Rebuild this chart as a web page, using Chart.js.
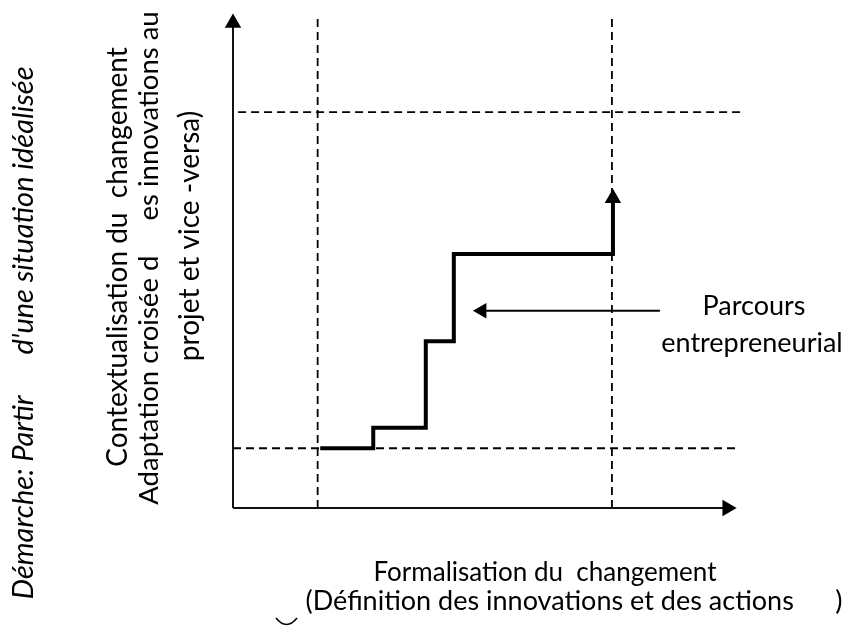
<!DOCTYPE html>
<html>
<head>
<meta charset="utf-8">
<script src="https://cdn.jsdelivr.net/npm/chart.js@4/dist/chart.umd.min.js"></script>
<style>
  html, body { margin: 0; padding: 0; background: #fff; }
  #wrap { width: 852px; height: 628px; position: relative; }
</style>
</head>
<body>
<div id="wrap"><canvas id="c" width="852" height="628"></canvas></div>
<script>
// ---- data (chart coordinates, 0..100 on both axes) ----
const pathX = [17.1, 27.5, 37.8, 43.3, 74.5];      // parcours entrepreneurial (step line)
const pathY = [12.0, 16.1, 33.5, 51.0, 62.2];
const dashedVX = [16.6, 74.3];                      // vertical dashed guides
const dashedVY = [0, 99];
const dashedHY = [79.5, 12.0];                      // horizontal dashed guides
const dashedHX = [[1.0, 99.8], [0, 98.8]];
const axisXEnd = 96.9;                              // x-axis (arrow)
const axisYEnd = 97.4;                              // y-axis (arrow)
const noteArrowX = [83.7, 48.8];                    // annotation arrow
const noteArrowY = [39.6, 39.6];

// ---- texts ----
const sideTitle = "Démarche: Partir      d'une situation idéalisée";
const yTitleLines = ["Contextualisation du  changement",
                     "Adaptation croisée d     es innovations au",
                     "projet et vice -versa)"];
const xTitleLines = ["Formalisation du  changement",
                     "(Définition des innovations et des actions      )"];
const noteLines = ["Parcours", "entrepreneurial"];

const pts = (xs, ys) => xs.map((x, i) => ({ x: x, y: ys[i] }));

const base = { fill: false, clip: false, pointRadius: 0, borderCapStyle: 'butt', borderJoinStyle: 'miter' };
const arrowEnd = (r) => (ctx) => ctx.dataIndex === ctx.dataset.data.length - 1 ? r : 0;
const head = (r, rot) => ({ pointStyle: 'triangle', pointRadius: arrowEnd(r), pointRotation: rot,
  pointBackgroundColor: '#000', pointBorderColor: '#000', pointBorderWidth: 0 });

const datasets = [];
dashedVX.forEach(x => datasets.push(Object.assign({}, base, {
  data: pts([x, x], dashedVY), borderColor: '#000', borderWidth: 1.8, borderDash: [8, 5]
})));
dashedHY.forEach((y, i) => datasets.push(Object.assign({}, base, {
  data: pts(dashedHX[i], [y, y]), borderColor: '#000', borderWidth: 1.8, borderDash: [8, 5]
})));
datasets.push(Object.assign({}, base, head(9.5, 0), {
  data: pts([0, 0], [0, axisYEnd]), borderColor: '#111', borderWidth: 2
}));
datasets.push(Object.assign({}, base, head(9.5, 90), {
  data: pts([0, axisXEnd], [0, 0]), borderColor: '#111', borderWidth: 2
}));
datasets.push(Object.assign({}, base, head(9.5, 0), {
  data: pts(pathX, pathY), stepped: 'before', borderColor: '#000', borderWidth: 4
}));
datasets.push(Object.assign({}, base, head(9, -90), {
  data: pts(noteArrowX, noteArrowY), borderColor: '#000', borderWidth: 2
}));

const FONT = 'Lato, "Open Sans", sans-serif';

// draw text centred at (cx, baseline); size fixed, or fitted to `width` when size is null
function drawText(ctx, text, cx, by, size, width, style, rotated) {
  ctx.save();
  if (size == null) {
    ctx.font = style + ' 100px ' + FONT;
    size = 100 * width / ctx.measureText(text).width;
  }
  ctx.font = style + ' ' + size.toFixed(2) + 'px ' + FONT;
  ctx.translate(cx, by);
  if (rotated) ctx.rotate(-Math.PI / 2);
  ctx.fillText(text, 0, 0);
  ctx.restore();
}

const textPlugin = {
  id: 'texts',
  afterDraw(chart) {
    const ctx = chart.ctx;
    ctx.save();
    ctx.fillStyle = '#000';
    ctx.textAlign = 'center';
    ctx.textBaseline = 'alphabetic';

    // rotated (x = baseline, y = centre)
    drawText(ctx, sideTitle, 33, 333, null, 533, 'italic', true);
    drawText(ctx, yTitleLines[0], 127, 257, 28, null, 'normal', true);
    drawText(ctx, yTitleLines[1], 158, 258, 27.5, null, 'normal', true);
    drawText(ctx, yTitleLines[2], 199, 236, 28, null, 'normal', true);

    drawText(ctx, xTitleLines[0], 545, 581, 26, null, 'normal', false);
    drawText(ctx, xTitleLines[1], 574, 610, 27, null, 'normal', false);
    drawText(ctx, noteLines[0], 754, 315, 27, null, 'normal', false);
    drawText(ctx, noteLines[1], 752, 352, 27, null, 'normal', false);

    // small under-tie before the parenthesis
    ctx.strokeStyle = '#000';
    ctx.lineWidth = 1.6;
    ctx.beginPath();
    ctx.moveTo(276, 618);
    ctx.quadraticCurveTo(286.5, 631, 297, 618);
    ctx.stroke();
    ctx.restore();
  }
};

new Chart(document.getElementById('c'), {
  type: 'line',
  data: { datasets: datasets },
  options: {
    responsive: false,
    animation: false,
    events: [],
    layout: { padding: { left: 233, right: 109, top: 10, bottom: 120 } },
    scales: {
      x: { type: 'linear', min: 0, max: 100, display: false },
      y: { type: 'linear', min: 0, max: 100, display: false }
    },
    plugins: { legend: { display: false }, tooltip: { enabled: false }, title: { display: false } }
  },
  plugins: [textPlugin]
});
</script>
</body>
</html>
